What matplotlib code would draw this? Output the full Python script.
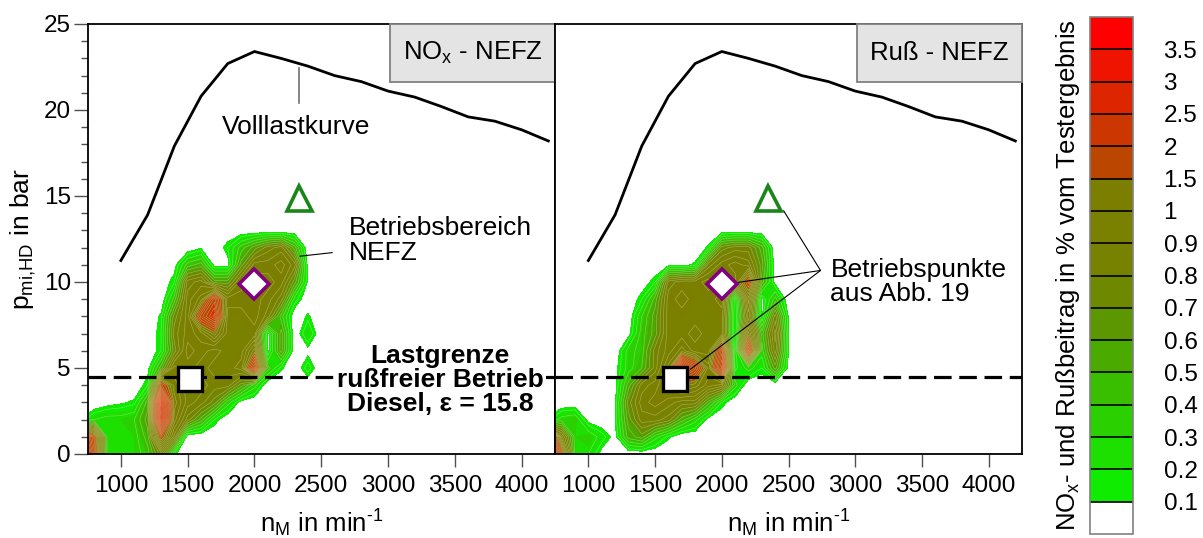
import numpy as np
import matplotlib
matplotlib.use("Agg")
import matplotlib.pyplot as plt
from matplotlib.patches import Rectangle

plt.rcParams['font.family'] = ['Liberation Sans', 'DejaVu Sans']
plt.rcParams['mathtext.fontset'] = 'custom'
plt.rcParams['mathtext.rm'] = 'Liberation Sans'
plt.rcParams['mathtext.it'] = 'Liberation Sans:italic'
plt.rcParams['mathtext.bf'] = 'Liberation Sans:bold'
plt.rcParams['mathtext.default'] = 'regular'

# --- map grid (engine speed in 1/min, indicated mean pressure in bar) ---
n_grid = [700, 800, 900, 1000, 1100, 1200, 1300, 1400, 1500, 1600,
          1700, 1800, 1900, 2000, 2100, 2200, 2300, 2400, 2500, 2600]
p_grid = [0, 1, 2, 3, 4, 5, 6, 7, 8, 9, 10, 11, 12, 13]

# NOx contribution in % of test result, rows = p_grid, cols = n_grid
nox_map = [
    [3.0, 1.8, 0.3, 0.3, 0.3, 0.4, 0.8, 0.12, 0, 0, 0, 0, 0, 0, 0, 0, 0, 0, 0, 0],
    [2.5, 1.6, 0.3, 0.3, 0.3, 0.5, 1.6, 0.9, 0, 0, 0, 0, 0, 0, 0, 0, 0, 0, 0, 0],
    [0.1, 0.25, 0.3, 0.3, 0.35, 0.6, 2.6, 1.2, 0.8, 0.5, 0.15, 0, 0, 0, 0, 0, 0, 0, 0, 0],
    [0, 0, 0.05, 0.08, 0.12, 0.5, 2.8, 1.3, 1.0, 0.9, 0.7, 0.3, 0.05, 0, 0, 0, 0, 0, 0, 0],
    [0, 0, 0, 0, 0, 0.15, 1.7, 1.2, 1.0, 1.0, 0.9, 0.9, 0.6, 0.3, 0, 0, 0, 0, 0, 0],
    [0, 0, 0, 0, 0, 0.05, 0.5, 1.1, 1.0, 0.9, 1.0, 1.0, 1.1, 2.0, 0.4, 0.12, 0, 0.2, 0, 0],
    [0, 0, 0, 0, 0, 0, 0.15, 0.7, 1.1, 1.0, 0.9, 1.0, 1.0, 1.4, 0.05, 0.6, 0, 0.06, 0, 0],
    [0, 0, 0, 0, 0, 0, 0.15, 0.8, 1.0, 1.1, 1.4, 1.0, 1.0, 1.0, 0.05, 0.6, 0, 0.25, 0, 0],
    [0, 0, 0, 0, 0, 0, 0.12, 0.7, 1.0, 1.8, 2.2, 1.0, 1.0, 1.1, 0.9, 0.4, 0, 0.12, 0, 0],
    [0, 0, 0, 0, 0, 0, 0, 0.4, 1.0, 1.2, 1.9, 1.1, 1.1, 1.1, 1.0, 0.8, 0.2, 0, 0, 0],
    [0, 0, 0, 0, 0, 0, 0, 0.15, 0.9, 1.0, 0.6, 0.6, 1.0, 1.1, 1.1, 1.0, 0.6, 0.08, 0, 0],
    [0, 0, 0, 0, 0, 0, 0, 0.05, 0.4, 0.5, 0.05, 0.05, 0.6, 1.0, 1.0, 1.1, 0.9, 0.05, 0, 0],
    [0, 0, 0, 0, 0, 0, 0, 0, 0, 0.08, 0, 0.15, 0.4, 0.6, 0.8, 0.9, 0.5, 0, 0, 0],
    [0, 0, 0, 0, 0, 0, 0, 0, 0, 0, 0, 0, 0, 0, 0, 0, 0, 0, 0, 0],
]

# soot contribution in % of test result
soot_map = [
    [3.0, 1.6, 0.3, 0.25, 0.05, 0, 0, 0, 0, 0, 0, 0, 0, 0, 0, 0, 0, 0, 0, 0],
    [2.2, 1.0, 0.3, 0.35, 0.2, 0.05, 0.5, 0.6, 0.3, 0.12, 0, 0, 0, 0, 0, 0, 0, 0, 0, 0],
    [0.12, 0.3, 0.35, 0.05, 0, 0.1, 0.6, 0.9, 0.9, 0.8, 0.5, 0.3, 0.05, 0, 0, 0, 0, 0, 0, 0],
    [0, 0, 0, 0, 0, 0.08, 0.7, 1.0, 1.1, 1.0, 0.9, 0.9, 0.5, 0.15, 0, 0, 0, 0, 0, 0],
    [0, 0, 0, 0, 0, 0.05, 0.5, 0.9, 1.0, 1.2, 1.4, 1.3, 1.1, 1.0, 0.3, 0, 0, 0, 0, 0],
    [0, 0, 0, 0, 0, 0.05, 0.3, 0.45, 0.8, 1.2, 2.5, 1.9, 1.2, 2.2, 0.12, 0.3, 0.15, 0.6, 0.05, 0],
    [0, 0, 0, 0, 0, 0, 0.3, 0.4, 0.8, 1.0, 1.2, 1.0, 1.0, 1.9, 0.05, 2.0, 0.3, 0.9, 0.1, 0],
    [0, 0, 0, 0, 0, 0, 0.05, 0.4, 0.6, 1.0, 1.0, 0.9, 1.0, 1.0, 0.05, 1.4, 0.4, 1.0, 0.1, 0],
    [0, 0, 0, 0, 0, 0, 0, 0.35, 0.6, 1.0, 1.0, 1.0, 1.0, 1.0, 0.05, 1.0, 0.05, 0.8, 0.08, 0],
    [0, 0, 0, 0, 0, 0, 0, 0.15, 0.5, 1.0, 1.1, 1.0, 1.0, 1.1, 0.08, 1.2, 0.05, 0.4, 0, 0],
    [0, 0, 0, 0, 0, 0, 0, 0.02, 0.15, 0.9, 1.0, 1.0, 1.1, 1.0, 1.0, 1.7, 0.5, 0.05, 0, 0],
    [0, 0, 0, 0, 0, 0, 0, 0, 0, 0.05, 0.05, 0.12, 0.8, 1.0, 1.1, 1.0, 0.6, 0.02, 0, 0],
    [0, 0, 0, 0, 0, 0, 0, 0, 0, 0, 0, 0, 0.12, 0.7, 0.8, 0.8, 0.5, 0, 0, 0],
    [0, 0, 0, 0, 0, 0, 0, 0, 0, 0, 0, 0, 0, 0, 0, 0, 0, 0, 0, 0],
]

# full load curve
fl_n = [1000, 1200, 1400, 1600, 1800, 2000, 2200, 2400, 2600, 2800,
        3000, 3200, 3400, 3600, 3800, 4000, 4200]
fl_p = [11.25, 13.9, 17.9, 20.8, 22.7, 23.4, 23.0, 22.55, 22.0, 21.65,
        21.1, 20.75, 20.2, 19.6, 19.35, 18.85, 18.2]

# contour levels / colours
levels = [0, 0.1, 0.2, 0.3, 0.4, 0.5, 0.6, 0.7, 0.8, 0.9, 1.0,
          1.5, 2.0, 2.5, 3.0, 3.5, 4.0]
level_colors = ['#ffffff', '#10ec00', '#1ddf00', '#2bd000', '#3abe00',
                '#4aaa00', '#5c9600', '#6e8800', '#768200', '#7a8000',
                '#7c7e00', '#ba4600', '#cc3600', '#dd2600', '#ee1400',
                '#ff0000']
cbar_labels = ['0.1', '0.2', '0.3', '0.4', '0.5', '0.6', '0.7', '0.8',
               '0.9', '1', '1.5', '2', '2.5', '3', '3.5']

# load limit for soot-free operation
limit_p = 4.45

# operating points from Abb. 19 (left panel, right panel)
square_n = [1515, 1650]
square_p = [4.35, 4.35]
diamond_n = [2000, 2000]
diamond_p = [9.9, 9.9]
triangle_n = [2330, 2350]
triangle_p = [14.9, 14.9]

panel_titles = ['NO$_x$ - NEFZ', 'Ruß - NEFZ']

W, H = 1203, 538
fig = plt.figure(figsize=(W / 100, H / 100), dpi=100)
ax1 = fig.add_axes([87.5 / W, 84 / H, 467.5 / W, 430 / H])
ax2 = fig.add_axes([555 / W, 84 / H, 467 / W, 430 / H])
cax = fig.add_axes([1090 / W, 4 / H, 43 / W, 517 / H])

N, P = np.meshgrid(n_grid, p_grid)
fs = 17.5   # tick labels
fa = 19     # annotations / labels

for i, (ax, zmap) in enumerate(zip([ax1, ax2], [nox_map, soot_map])):
    Z = np.array(zmap)
    cf = ax.contourf(N, P, Z, levels=levels, colors=level_colors, zorder=1)
    ax.contour(N, P, Z, levels=np.arange(0.15, 3.5, 0.1), colors='#e8f0c8',
               linewidths=0.4, alpha=0.45, zorder=1.5)
    ax.plot(fl_n, fl_p, color='black', lw=2.0, zorder=3)
    ax.axhline(limit_p, color='black', lw=2.3, ls=(0, (5.5, 2.4)), zorder=3)

    ax.plot(square_n[i], square_p[i], marker='s', ms=17, mfc='white',
            mec='black', mew=2.4, ls='none', zorder=6)
    ax.plot(diamond_n[i], diamond_p[i], marker='D', ms=15.5, mfc='white',
            mec='#800080', mew=2.6, ls='none', zorder=6)
    ax.plot(triangle_n[i], triangle_p[i], marker='^', ms=18, mfc='white',
            mec='#1a861a', mew=2.6, ls='none', zorder=6)

    ax.set_xlim(750, 4250)
    ax.set_ylim(0, 25)
    ax.set_xticks([1000, 1500, 2000, 2500, 3000, 3500, 4000])
    ax.tick_params(axis='x', direction='out', length=9, width=1, color='#505050',
                   labelsize=fs, pad=6)
    ax.set_xlabel(r'n$_M$ in min$^{\text{-}1}$', fontsize=18.5, labelpad=8)
    for s in ax.spines.values():
        s.set_linewidth(1.3)

    ax.add_patch(Rectangle((0.647, 0.866), 0.353, 0.134, transform=ax.transAxes,
                           facecolor='#e4e4e4', edgecolor='#808080', lw=1.3,
                           zorder=7, clip_on=False))
    ax.text(0.8235, 0.933, panel_titles[i], transform=ax.transAxes,
            ha='center', va='center', fontsize=18.5, zorder=8)

ax1.set_yticks([0, 5, 10, 15, 20, 25])
ax1.set_yticks(np.arange(0, 26, 1), minor=True)
ax1.tick_params(axis='y', which='major', direction='out', length=10, width=1,
                color='#505050', labelsize=fs, pad=2)
ax1.tick_params(axis='y', which='minor', direction='out', length=5, width=1,
                color='#505050')
ax1.set_ylabel(r'p$_{\text{mi,HD}}$ in bar', fontsize=19, labelpad=4)
ax2.set_yticks([])

# annotations, left panel
ax1.plot([2332, 2332], [22.45, 20.4], color='#707070', lw=1.2, zorder=4)
ax1.text(2310, 19.0, 'Volllastkurve', ha='center', va='center', fontsize=fa, zorder=5)
ax1.annotate('Betriebsbereich\nNEFZ', xy=(2340, 11.5), xytext=(2707, 12.4),
             fontsize=fa, ha='left', va='center', linespacing=1.05,
             arrowprops=dict(arrowstyle='-', color='black', lw=0.8,
                             shrinkA=10, shrinkB=0), zorder=5)
ax1.text(3390, 4.3, 'Lastgrenze\nrußfreier Betrieb\nDiesel, ε = 15.8',
         ha='center', va='center', fontsize=19, fontweight='bold',
         linespacing=1.0, zorder=5,
         bbox=dict(boxstyle='square,pad=0.1', facecolor='white', edgecolor='none'))

# annotations, right panel
hub = (2740, 10.67)
for tip in [(2463, 14.15), (2125, 9.98), (1765, 4.93)]:
    ax2.annotate('', xy=tip, xytext=hub,
                 arrowprops=dict(arrowstyle='-', color='black', lw=0.8,
                                 shrinkA=0, shrinkB=0), zorder=5)
ax2.text(2814, 10.0, 'Betriebspunkte\naus Abb. 19', ha='left', va='center',
         fontsize=fa, linespacing=1.05, zorder=5)

# colour bar
cb = fig.colorbar(cf, cax=cax, ticks=levels[1:-1], drawedges=True)
cb.ax.set_yticklabels(cbar_labels)
cb.ax.tick_params(length=0, labelsize=fs, pad=22)
cb.outline.set_edgecolor('#808080')
cb.outline.set_linewidth(1.2)
cb.dividers.set_color('black')
cb.dividers.set_linewidth(1.2)
cb.ax.yaxis.set_label_position('left')
cb.set_label('NO$_x$- und Rußbeitrag in % vom Testergebnis', fontsize=18.5, labelpad=6)

fig.savefig('out.png', dpi=100)
